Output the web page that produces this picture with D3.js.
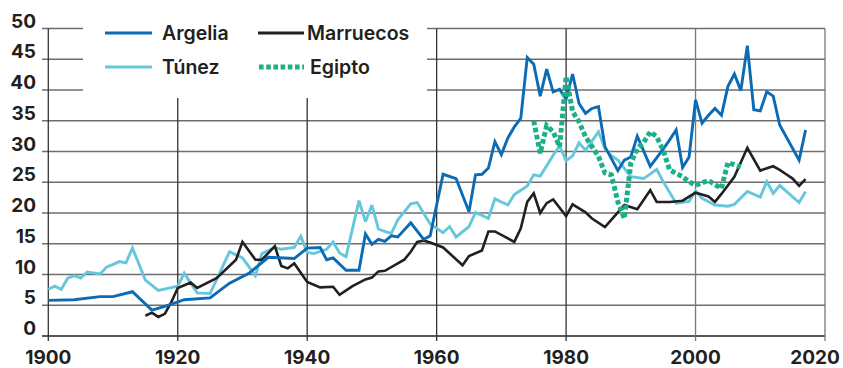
<!DOCTYPE html>
<html><head><meta charset="utf-8">
<script src="https://cdn.jsdelivr.net/npm/d3@7"></script>
<style>
html,body{margin:0;padding:0;background:#fff;}
svg{display:block;}
text{font-family:Inter,"Liberation Sans",Arial,sans-serif;fill:#231f20;}
</style></head>
<body><svg id="c" width="843" height="368"></svg>
<script>
const xTicks = [1900,1920,1940,1960,1980,2000,2020];
const yTicks = [0,5,10,15,20,25,30,35,40,45,50];

const argelia = [[1900,5.8],[1904,5.9],[1908,6.4],[1910,6.4],[1913,7.2],[1916,4.2],[1918,4.8],[1921,5.9],[1925,6.2],[1928,8.6],[1931,10.2],[1934,12.8],[1938,12.6],[1940,14.3],[1942,14.4],[1943,12.4],[1944,12.7],[1946,10.7],[1948,10.7],[1949,16.6],[1950,14.9],[1951,15.7],[1952,15.4],[1953,16.3],[1954,16.1],[1956,18.4],[1958,15.7],[1959,16.3],[1961,26.3],[1963,25.6],[1965,20.2],[1966,26.2],[1967,26.3],[1968,27.3],[1969,31.6],[1970,29.5],[1971,32.2],[1972,34.0],[1973,35.4],[1974,45.3],[1975,44.2],[1976,39.0],[1977,43.4],[1978,39.7],[1979,40.1],[1980,38.5],[1981,42.6],[1982,37.8],[1983,36.2],[1984,37.0],[1985,37.3],[1986,30.8],[1988,26.9],[1989,28.6],[1990,29.1],[1991,32.5],[1993,27.6],[1995,30.4],[1996,31.9],[1997,33.5],[1998,27.4],[1999,29.1],[2000,38.4],[2001,34.6],[2002,35.9],[2003,37.0],[2004,35.9],[2005,40.6],[2006,42.6],[2007,39.9],[2008,47.2],[2009,36.8],[2010,36.6],[2011,39.7],[2012,39.0],[2013,34.3],[2016,28.6],[2017,33.5]];

const tunez = [[1900,7.6],[1901,8.1],[1902,7.6],[1903,9.4],[1904,9.8],[1905,9.4],[1906,10.4],[1908,10.1],[1909,11.2],[1911,12.1],[1912,11.9],[1913,14.3],[1915,9.1],[1917,7.4],[1920,8.1],[1921,10.2],[1922,8.6],[1923,7.0],[1925,6.9],[1928,13.7],[1930,12.7],[1932,9.8],[1933,13.4],[1935,14.4],[1936,14.1],[1938,14.4],[1939,16.2],[1940,13.6],[1941,13.4],[1943,14.1],[1944,15.3],[1945,13.5],[1946,12.9],[1948,22.0],[1949,18.6],[1950,21.3],[1951,17.4],[1952,17.0],[1953,16.7],[1954,18.9],[1956,21.5],[1957,21.7],[1959,18.2],[1961,16.8],[1962,17.8],[1963,16.1],[1965,17.8],[1966,20.1],[1968,19.1],[1969,22.3],[1971,21.3],[1972,23.0],[1974,24.4],[1975,26.2],[1976,26.0],[1978,29.4],[1979,30.9],[1980,28.5],[1981,29.3],[1982,31.4],[1983,30.2],[1985,33.2],[1986,30.5],[1987,29.3],[1988,28.6],[1990,25.9],[1992,25.6],[1994,27.1],[1995,25.1],[1997,21.6],[1999,21.9],[2000,23.6],[2001,22.4],[2003,21.3],[2005,21.1],[2006,21.4],[2008,23.5],[2010,22.6],[2011,25.1],[2012,23.2],[2013,24.5],[2016,21.7],[2017,23.5]];

const marruecos = [[1915,3.3],[1916,3.8],[1917,3.1],[1918,3.6],[1919,5.5],[1920,7.8],[1922,8.7],[1923,7.8],[1926,9.4],[1929,12.4],[1930,15.3],[1932,12.4],[1933,12.4],[1935,14.6],[1936,11.4],[1937,11.0],[1938,11.8],[1940,8.8],[1942,7.9],[1944,8.0],[1945,6.7],[1947,8.1],[1949,9.2],[1950,9.5],[1951,10.5],[1952,10.6],[1954,11.8],[1955,12.4],[1956,13.7],[1957,15.3],[1958,15.5],[1959,15.2],[1961,14.4],[1964,11.5],[1965,13.0],[1967,13.9],[1968,17.0],[1969,17.0],[1972,15.3],[1973,17.5],[1974,21.8],[1975,23.2],[1976,20.0],[1977,21.6],[1978,22.2],[1980,19.5],[1981,21.4],[1983,20.1],[1984,19.1],[1986,17.7],[1988,20.1],[1989,21.3],[1991,20.6],[1993,23.7],[1994,21.8],[1996,21.8],[1998,22.0],[2000,23.3],[2002,22.7],[2003,21.8],[2004,23.1],[2006,25.9],[2008,30.6],[2010,26.9],[2012,27.6],[2013,27.0],[2014,26.3],[2015,25.6],[2016,24.4],[2017,25.5]];

const egipto = [[1975,35.0],[1976,29.7],[1977,34.2],[1978,33.2],[1979,30.8],[1980,42.2],[1981,36.5],[1982,34.8],[1983,32.4],[1985,29.2],[1986,26.5],[1987,26.2],[1988,21.8],[1989,19.1],[1990,28.1],[1991,30.5],[1992,31.5],[1993,33.2],[1994,32.4],[1995,30.2],[1996,27.0],[1998,25.9],[1999,25.1],[2000,24.5],[2002,25.3],[2003,24.6],[2004,24.0],[2005,28.2],[2007,27.5]];

const colors = {"Argelia":"#0b6bb5","Túnez":"#66c7dc","Marruecos":"#231f20","Egipto":"#1cb088"};

const svg = d3.select("#c");
const x = d3.scaleLinear().domain([1900,2020]).range([48.3,825]);
const y = d3.scaleLinear().domain([0,50]).range([336,28.5]);

const grid = svg.append("g");
grid.selectAll("line.h").data(yTicks).join("line")
  .attr("x1",42).attr("x2",x(2020))
  .attr("y1",d=>y(d)).attr("y2",d=>y(d))
  .attr("stroke",d=>d===0?"#231f20":"#6e6e6e").attr("stroke-width",1.4);
grid.selectAll("line.v").data(xTicks).join("line")
  .attr("x1",d=>x(d)).attr("x2",d=>x(d))
  .attr("y1",y(50)).attr("y2",y(0)+5)
  .attr("stroke",d=>d<=1980?"#333":"#777").attr("stroke-width",1.3);

svg.append("g").selectAll("text").data(yTicks).join("text")
  .attr("x",36).attr("y",d=>y(d)-1)
  .attr("text-anchor","end")
  .style("font-size","19px").style("font-weight","700")
  .text(d=>d);
svg.append("g").selectAll("text").data(xTicks).join("text")
  .attr("x",d=>Math.min(x(d), 843-28))
  .attr("y",364)
  .attr("text-anchor","middle")
  .style("font-size","19px").style("font-weight","700")
  .text(d=>d);

svg.append("rect").attr("x",83).attr("y",0).attr("width",344).attr("height",98).attr("fill","#fff");

const line = d3.line().x(d=>x(d[0])).y(d=>y(d[1]));
const data = {"Argelia":argelia,"Túnez":tunez,"Marruecos":marruecos,"Egipto":egipto};
["Túnez","Marruecos","Argelia","Egipto"].forEach(n=>{
  const p = svg.append("path").datum(data[n]).attr("d",line)
    .attr("fill","none").attr("stroke",colors[n])
    .attr("stroke-linejoin","miter").attr("stroke-miterlimit",3);
  if(n==="Egipto") p.attr("stroke-width",5).attr("stroke-dasharray","4.6,2.6");
  else p.attr("stroke-width",n==="Marruecos"?2.6:2.9);
});

const leg = [
  {n:"Argelia",x1:105,x2:152,tx:162,y:33},
  {n:"Marruecos",x1:258,x2:304,tx:307,y:33},
  {n:"Túnez",x1:105,x2:152,tx:162,y:67},
  {n:"Egipto",x1:259,x2:304,tx:310,y:67}
];
const lg = svg.append("g");
leg.forEach(l=>{
  const ln = lg.append("line").attr("x1",l.x1).attr("x2",l.x2).attr("y1",l.y).attr("y2",l.y)
    .attr("stroke",colors[l.n]);
  if(l.n==="Egipto") ln.attr("stroke-width",5).attr("stroke-dasharray","4.6,2.6");
  else ln.attr("stroke-width",3);
  lg.append("text").attr("x",l.tx).attr("y",l.y+7)
    .style("font-size","19.5px").style("font-weight","600").text(l.n);
});
</script></body></html>
